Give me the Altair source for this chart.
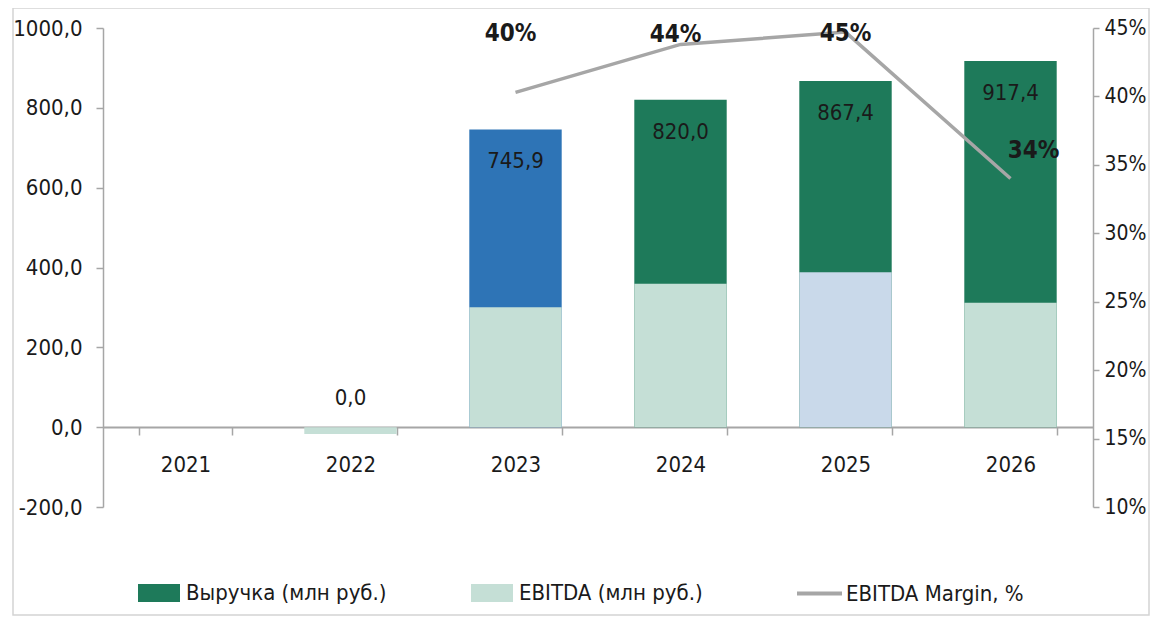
import altair as alt
import pandas as pd

# ---- data ----
years = ["2021", "2022", "2023", "2024", "2025", "2026"]
rev_years = ["2022", "2023", "2024", "2025", "2026"]
revenue = [0.0, 745.9, 820.0, 867.4, 917.4]
ebitda = [-17.0, 300.4, 359.2, 388.0, 312.0]
margin_years = ["2023", "2024", "2025", "2026"]
margin = [0.403, 0.438, 0.447, 0.340]
margin_labels = ["40%", "44%", "45%", "34%"]
left_ticks = [-200, 0, 200, 400, 600, 800, 1000]
right_ticks = [0.10, 0.15, 0.20, 0.25, 0.30, 0.35, 0.40, 0.45]

REV = "Выручка (млн руб.)"
EBI = "EBITDA (млн руб.)"
MRG = "EBITDA Margin, %"

# ---- styling ----
FONT = "DejaVu Sans Condensed"
GREEN = "#1e7a5a"
LIGHT = "#c5dfd6"
BLUE = "#2e74b6"
LIGHTBLUE = "#c9d9ea"
GRAY = "#a6a6a6"
TXT = "#1a1a1a"
RECT = "M-1,-0.43L1,-0.43L1,0.43L-1,0.43Z"
FS = 22

df_rev = pd.DataFrame({"year": rev_years, "value": revenue, "series": REV})
df_ebi = pd.DataFrame({"year": rev_years, "value": ebitda, "series": EBI})
df_mrg = pd.DataFrame({"year": margin_years, "margin": margin,
                       "label": margin_labels, "series": MRG})

num_fmt = "replace(replace(format(datum.value, '.1f'), '.', ','), '\u2212', '-')"

xscale = alt.Scale(domain=years, paddingInner=0.44, paddingOuter=0.22)
xaxis = alt.Axis(title=None, orient="bottom", offset=-80, labelAngle=0,
                 domainColor=GRAY, domainWidth=2, tickBand="extent",
                 tickColor=GRAY, tickWidth=1.5, tickSize=8,
                 labelFont=FONT, labelFontSize=FS, labelColor=TXT,
                 labelPadding=19)
X = alt.X("year:N", scale=xscale, axis=xaxis)

yscale = alt.Scale(domain=[-200, 1000], nice=False)
yaxis = alt.Axis(title=None, values=left_ticks, grid=False,
                 labelExpr=num_fmt,
                 domainColor=GRAY, domainWidth=1.5, tickColor=GRAY,
                 tickWidth=1.5, tickSize=7, labelFont=FONT,
                 labelFontSize=FS, labelColor=TXT, labelPadding=14)
Y = alt.Y("value:Q", scale=yscale, axis=yaxis, stack=None)

frame = alt.Chart(pd.DataFrame({"a": [0]})).mark_rect(
    fill="transparent", stroke="#d4d4d4", strokeWidth=1.5
).encode(x=alt.value(-90), x2=alt.value(1046), y=alt.value(-20), y2=alt.value(587))

def leg(x, y, stype, ssize, sw, off):
    return alt.Legend(title=None, orient="none", legendX=x, legendY=y,
                      symbolType=stype, symbolSize=ssize, symbolStrokeWidth=sw,
                      labelFont=FONT, labelFontSize=FS, labelColor=TXT,
                      labelOffset=off, labelLimit=400, padding=0)

rev_bars = alt.Chart(df_rev).mark_bar().encode(
    x=X, y=Y,
    fill=alt.when(alt.datum.year == "2023").then(alt.value(BLUE)).otherwise(
        alt.Fill("series:N", scale=alt.Scale(domain=[REV], range=[GREEN]),
                 legend=leg(35, 544, RECT, 1764, 0, 6)))
)

ebi_bars = alt.Chart(df_ebi).mark_bar().encode(
    x=X, y=Y,
    color=alt.when(alt.datum.year == "2025").then(alt.value(LIGHTBLUE)).otherwise(
        alt.Color("series:N", scale=alt.Scale(domain=[EBI], range=[LIGHT]),
                  legend=leg(368, 544, RECT, 1764, 0, 6)))
)

label_expr = "replace(format(datum.value, '.1f'), '.', ',')"
rev_text_in = alt.Chart(df_rev).transform_filter("datum.value > 0").transform_calculate(
    txt=label_expr
).mark_text(font=FONT, fontSize=FS, color=TXT, dy=32, baseline="middle").encode(
    x=X, y=Y, text="txt:N")
rev_text_zero = alt.Chart(df_rev).transform_filter("datum.value <= 0").transform_calculate(
    txt=label_expr
).mark_text(font=FONT, fontSize=FS, color=TXT, dy=-29, baseline="middle").encode(
    x=X, y=Y, text="txt:N")

left = alt.layer(frame, rev_bars, ebi_bars, rev_text_in, rev_text_zero)

Y2 = alt.Y("margin:Q", scale=alt.Scale(domain=[0.10, 0.45], nice=False),
           axis=alt.Axis(title=None, orient="right", values=right_ticks, format=".0%",
                         grid=False, domainColor=GRAY, domainWidth=1.5,
                         tickColor=GRAY, tickWidth=1.5, tickSize=6,
                         labelFont=FONT, labelFontSize=21, labelColor=TXT,
                         labelPadding=5))

line = alt.Chart(df_mrg).mark_line(strokeWidth=3.5).encode(
    x=X, y=Y2,
    stroke=alt.Stroke("series:N", scale=alt.Scale(domain=[MRG], range=[GRAY]),
                      legend=leg(692, 541, "stroke", 2025, 4, 2))
)

offsets = {"2023": (-5, -58), "2024": (-5, -9), "2025": (0, 2), "2026": (23, -28)}
pct_layers = []
for yr, (ddx, ddy) in offsets.items():
    pct_layers.append(
        alt.Chart(df_mrg).transform_filter(alt.datum.year == yr).mark_text(
            font=FONT, fontSize=24, fontWeight="bold", color=TXT,
            dx=ddx, dy=ddy, baseline="middle").encode(x=X, y=Y2, text="label:N"))

right = alt.layer(line, *pct_layers)

chart = alt.layer(left, right).resolve_scale(y="independent").properties(
    width=990, height=479,
    autosize=alt.AutoSizeParams(type="none"),
    padding={"left": 95, "top": 20, "right": 57, "bottom": 110},
    background="white",
).configure_view(stroke=None)

chart.save("out.html", embed_options={"renderer": "svg", "actions": False})
